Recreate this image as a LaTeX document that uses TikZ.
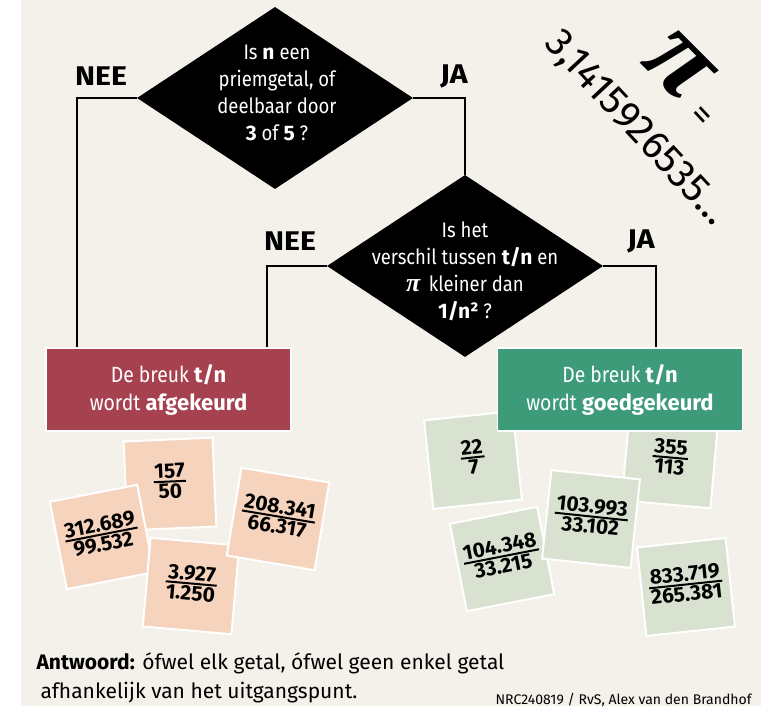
\documentclass[tikz,border=0pt]{standalone}
\usepackage{fontspec}
\setmainfont{Fira Sans}
\newfontfamily\smal{Fira Sans}[FakeStretch=0.88]
\newfontfamily\breed{Fira Sans}[FakeStretch=1.12]
\newfontfamily\grieks{Liberation Serif}
\usetikzlibrary{shapes.geometric}

\definecolor{papier}{HTML}{F3F1E9}
\definecolor{afkeur}{HTML}{A6424F}
\definecolor{goedkeur}{HTML}{3D9B7A}
\definecolor{perzik}{HTML}{F6D3BD}
\definecolor{salie}{HTML}{D9E2D0}

\setlength\arrayrulewidth{2pt}
\newcommand\breuk[2]{\begin{tabular}{@{\hspace{1pt}}c@{\hspace{1pt}}}#1\\[-4pt]\hline\noalign{\vskip 1pt}#2\end{tabular}}
\newcommand\vet[1]{{\normalfont\bfseries #1}}
\newcommand\pie{{\grieks\bfseries\itshape π}}

\tikzset{
	vraag/.style={diamond, fill=black, minimum width=276pt, minimum height=182pt, inner sep=0pt},
	vraagtekst/.style={text=white, align=center, font=\fontsize{21}{27}\smal},
	keuze/.style={font=\fontsize{27}{27}\breed\bfseries},
	lijn/.style={line width=2pt},
	uitslag/.style={draw=white, line width=1.5pt, minimum width=245pt, minimum height=83pt, inner sep=0pt, text=white, align=center, font=\fontsize{22}{28}\smal},
	kaart/.style={draw=white, line width=2pt, minimum size=89pt, inner sep=0pt, font=\fontsize{21}{21}\selectfont\bfseries},
}

\begin{document}
\begin{tikzpicture}[x=1pt, y=-1pt]
	%%%%% START %%%%%
	
	\useasboundingbox (0,0) rectangle (771,711);
	\fill[papier] (21,0) rectangle (761,706);
	
	\node[rotate=-45, inner sep=0pt, font=\fontsize{110}{110}\selectfont] (pi) at (678,66) {\pie};
	\node[rotate=-47, font=\fontsize{36}{36}\selectfont] (is) at (700,117) {=};
	\node[rotate=-47, font=\fontsize{40}{40}\selectfont] (cijfers) at (636,129) {3,1415926535…};
	
	\node[vraag] (q1) at (275,98) {};
	\node[vraagtekst] (q1tekst) at (277,93) {Is \vet{n} een\\priemgetal, of\\deelbaar door\\\vet{3} of \vet{5} ?};
	\node[vraag] (q2) at (465,266) {};
	\node[vraagtekst] (q2tekst) at (465,271) {Is het\\verschil tussen \vet{t/n} en\\{\fontsize{26}{26}\selectfont\pie}\, kleiner dan\\\vet{1/n²} ?};
	
	\node[keuze] (nee1) at (101,76) {NEE};
	\node[keuze] (ja1) at (454,76) {JA};
	\node[keuze] (nee2) at (290,241) {NEE};
	\node[keuze] (ja2) at (641,241) {JA};
	
	\node[kaart, fill=perzik, rotate=2.5] (k157) at (170,484) {\breuk{157}{50}};
	\node[kaart, fill=perzik, rotate=11] (k312) at (102,537) {\breuk{312.689}{99.532}};
	\node[kaart, fill=perzik, rotate=-5] (k3927) at (191,586) {\breuk{3.927}{1.250}};
	\node[kaart, fill=perzik, rotate=-9.5] (k208) at (278,519) {\breuk{208.341}{66.317}};
	
	\node[kaart, fill=salie, rotate=6] (k22) at (473,460) {\breuk{22}{7}};
	\node[kaart, fill=salie, rotate=-5] (k355) at (670,460) {\breuk{355}{113}};
	\node[kaart, fill=salie, rotate=11] (k104) at (502,559) {\breuk{104.348}{33.215}};
	\node[kaart, fill=salie, rotate=-6] (k103) at (591,519) {\breuk{103.993}{33.102}};
	\node[kaart, fill=salie, rotate=6] (k833) at (686,587) {\breuk{833.719}{265.381}};
	
	\node[uitslag, fill=afkeur] (rood) at (168.5,389.5) {De breuk \vet{t/n}\\wordt \vet{afgekeurd}};
	\node[uitslag, fill=goedkeur] (groen) at (620,389.5) {De breuk \vet{t/n}\\wordt \vet{goedgekeurd}};
	
	\draw[lijn] (q1.west) -| ([xshift=32pt]rood.north west);
	\draw[lijn] (q1.east) -| (q2.north);
	\draw[lijn] (q2.west) -| ([xshift=-25pt]rood.north east);
	\draw[lijn] (q2.east) -| ([xshift=36pt]groen.north);
	
	\node[anchor=west, align=left, font=\fontsize{21}{29}\selectfont] (antwoord) at (33,677.5) {\textbf{Antwoord:} ófwel elk getal, ófwel geen enkel getal\\\hspace{4pt}afhankelijk van het uitgangspunt.};
	\node[anchor=east, font=\fontsize{14}{14}\selectfont] (bron) at (755,700) {NRC240819 / RvS, Alex van den Brandhof};
	
	%%%%% END %%%%%
\end{tikzpicture}
\end{document}
